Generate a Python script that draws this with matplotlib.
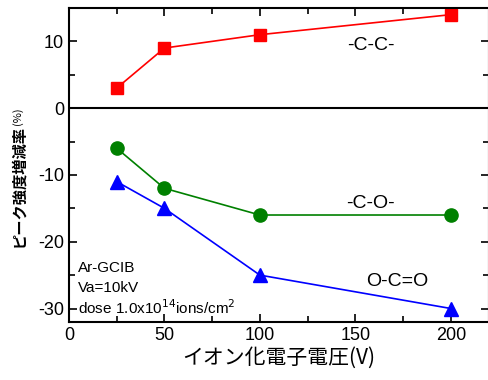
import matplotlib
matplotlib.use('Agg')
import matplotlib.pyplot as plt
from matplotlib.ticker import MultipleLocator

plt.rcParams['font.family'] = ['Liberation Sans', 'Noto Sans CJK JP', 'DejaVu Sans']
plt.rcParams['axes.unicode_minus'] = False
jp = ['Noto Sans CJK JP', 'DejaVu Sans']

# data
volt = [25, 50, 100, 200]
cc = [3, 9, 11, 14]
co = [-6, -12, -16, -16]
oco = [-11, -15, -25, -30]
note_lines = ['Ar-GCIB', 'Va=10kV', 'dose 1.0x10$^{14}$ions/cm$^2$']

fig = plt.figure(figsize=(4.89, 3.80), dpi=100)
ax = fig.add_axes([0.141, 0.153, 0.859, 0.826])

ax.axhline(0, color='black', lw=1.5, zorder=1)
ax.plot(volt, cc, '-s', color='red', lw=1.2, ms=8.5)
ax.plot(volt, co, '-o', color='green', lw=1.2, ms=9.5)
ax.plot(volt, oco, '-^', color='blue', lw=1.2, ms=10)

ax.text(158, 9.4, '-C-C-', fontsize=14, ha='center', va='center')
ax.text(158, -14.3, '-C-O-', fontsize=14, ha='center', va='center')
ax.text(172, -26.0, 'O-C=O', fontsize=14, ha='center', va='center')
for i, line in enumerate(note_lines):
    ax.text(4.7, -23.9 - 3.0 * i, line, fontsize=11, ha='left', va='center')

ax.set_xlim(0, 220)
ax.set_ylim(-32, 15)
ax.xaxis.set_major_locator(MultipleLocator(50))
ax.xaxis.set_minor_locator(MultipleLocator(25))
ax.yaxis.set_major_locator(MultipleLocator(10))
ax.yaxis.set_minor_locator(MultipleLocator(5))
ax.tick_params(which='both', direction='in', top=True, right=True, labelsize=13, width=1.2)
ax.tick_params(which='major', length=6)
ax.tick_params(which='minor', length=4)
for s in ax.spines.values():
    s.set_linewidth(1.5)

ax.set_xlabel('イオン化電子電圧(V)', fontsize=15, family=jp, labelpad=2)
fig.text(18 / 489, 1 - 186 / 380, 'ピーク強度増減率', fontsize=11, fontweight='bold',
         family=jp, rotation=90, ha='center', va='center')
fig.text(18 / 489, 1 - 116 / 380, '(%)', fontsize=8, family=jp,
         rotation=90, ha='center', va='center')

fig.savefig('out.png', dpi=100)
